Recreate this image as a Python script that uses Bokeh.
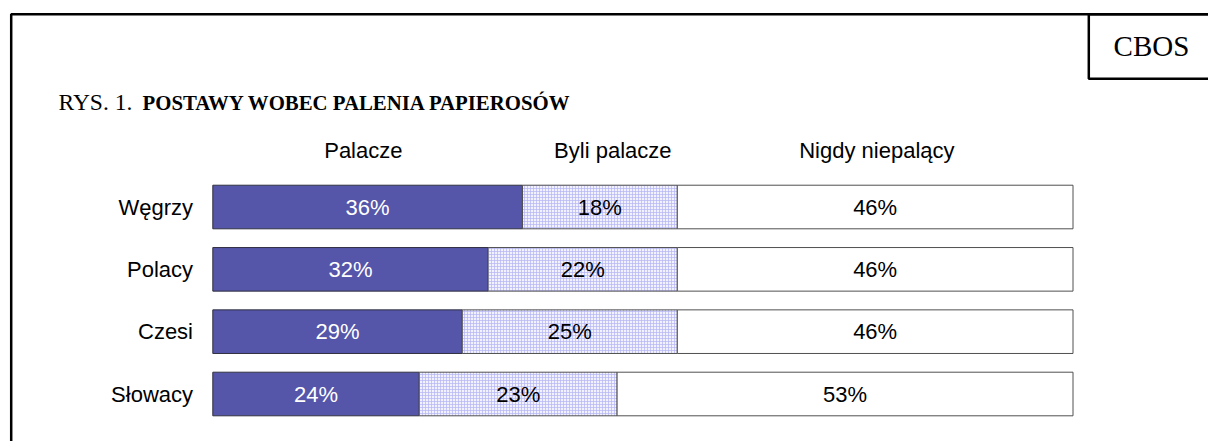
from bokeh.plotting import figure
from bokeh.models import Range1d, ColumnDataSource, BoxAnnotation, Label
from bokeh.core.properties import value
from bokeh.embed import file_html
from bokeh.resources import INLINE

# ---- data ----
countries = ["Węgrzy", "Polacy", "Czesi", "Słowacy"]
palacze = [36, 32, 29, 24]
byli = [18, 22, 25, 23]
nigdy = [46, 46, 46, 53]
series_names = ["Palacze", "Byli palacze", "Nigdy niepalący"]
title_prefix = "RYS. 1."
title_main = "POSTAWY WOBEC PALENIA PAPIEROSÓW"
brand = "CBOS"

# ---- layout (canvas pixel geometry) ----
W, H = 1208, 441
SX = 8.602            # px per percent
X0_PX = 212.3         # canvas x of 0%
SY = 62.33            # px per row
Y0_PX = 393.5         # canvas y (from top) of bottom row centre

x_start = -X0_PX / SX
x_end = (W - X0_PX) / SX
y_end = Y0_PX / SY
y_start = (Y0_PX - H) / SY


def cx(c):
    return x_start + c / SX


def cy(c):
    return y_end - c / SY


n = len(countries)
rows = [n - 1 - i for i in range(n)]
b_right = [a + b for a, b in zip(palacze, byli)]
n_right = [a + b for a, b in zip(b_right, nigdy)]

src = ColumnDataSource(dict(
    y=rows, country=countries,
    p0=[0] * n, p1=palacze, b0=palacze, b1=b_right, n0=b_right, n1=n_right,
    pc=[v / 2 for v in palacze],
    bc=[a + b / 2 for a, b in zip(palacze, byli)],
    nc=[a + b / 2 for a, b in zip(b_right, nigdy)],
    pl=[f"{v}%" for v in palacze],
    bl=[f"{v}%" for v in byli],
    nl=[f"{v}%" for v in nigdy],
))

p = figure(width=W, height=H, output_backend="svg", toolbar_location=None,
           x_range=Range1d(x_start, x_end), y_range=Range1d(y_start, y_end),
           x_axis_type=None, y_axis_type=None,
           min_border=0, min_border_left=0, min_border_right=0,
           min_border_top=0, min_border_bottom=0)
p.outline_line_color = None
p.background_fill_color = "white"
p.border_fill_color = "white"
p.grid.visible = False

BH = 43.6 / SY
p.hbar(y="y", left="p0", right="p1", height=BH, source=src,
       fill_color="#5555aa", line_color="#303040", line_width=1)
p.hbar(y="y", left="b0", right="b1", height=BH, source=src,
       fill_color="#f2f2ff", hatch_pattern="cross", hatch_color="#b4b4f4",
       hatch_scale=3, hatch_weight=0.7,
       line_color="#505050", line_width=1)
p.hbar(y="y", left="n0", right="n1", height=BH, source=src,
       fill_color="white", line_color="#505050", line_width=1)

font = value("Liberation Sans")
fs = "22px"
p.text(x="pc", y="y", text="pl", source=src, text_font=font, text_font_size=fs,
       text_color="white", text_align="center", text_baseline="middle")
p.text(x="bc", y="y", text="bl", source=src, text_font=font, text_font_size=fs,
       text_color="black", text_align="center", text_baseline="middle")
p.text(x="nc", y="y", text="nl", source=src, text_font=font, text_font_size=fs,
       text_color="black", text_align="center", text_baseline="middle")
p.text(x=cx(192.5), y="y", text="country", source=src, text_font=font,
       text_font_size=fs, text_color="black", text_align="right",
       text_baseline="middle")

# header labels
header_x = [17.5, 46.5, 77.2]
for name, hx in zip(series_names, header_x):
    p.add_layout(Label(x=hx, y=cy(149.5), text=name, text_font="Liberation Sans",
                       text_font_size=fs, text_align="center",
                       text_baseline="middle", text_color="black"))

# frame and CBOS box
p.add_layout(BoxAnnotation(left=cx(10.7), top=cy(13.7), right=cx(3000), bottom=cy(3000),
                           fill_alpha=0, line_alpha=1, line_color="black", line_width=2.5))
p.add_layout(BoxAnnotation(left=cx(1088.3), top=cy(13.7), right=cx(3000), bottom=cy(78.3),
                           fill_alpha=0, line_alpha=1, line_color="black", line_width=2.5))

p.add_layout(Label(x=cx(1151), y=cy(45), text=brand, text_font="Liberation Serif",
                   text_font_size="29px", text_align="center",
                   text_baseline="middle", text_color="black"))
p.add_layout(Label(x=cx(58), y=cy(101.7), text=title_prefix, text_font="Liberation Serif",
                   text_font_size="23.5px", text_align="left",
                   text_baseline="alphabetic", text_color="black"))
p.add_layout(Label(x=cx(142), y=cy(101.7), text=title_main, text_font="Liberation Serif",
                   text_font_size="20.8px", text_font_style="bold", text_align="left",
                   text_baseline="alphabetic", text_color="black"))

open("out.html", "w").write(file_html(p, INLINE))
